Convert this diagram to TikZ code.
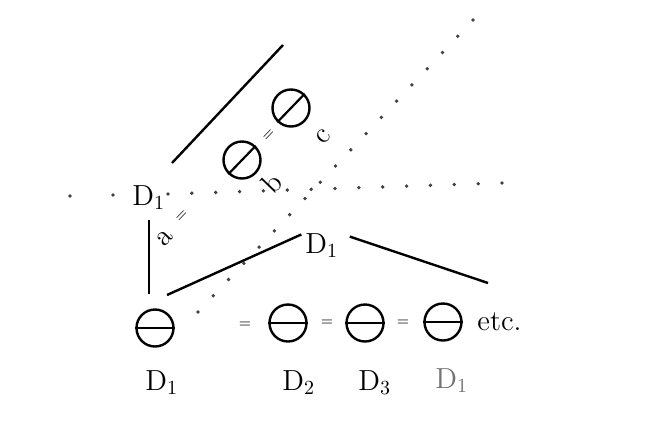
\documentclass[tikz,border=0pt]{standalone}
\usepackage{tikz}

\begin{document}
\begin{tikzpicture}[x=0.5pt,y=-0.5pt,
    every node/.style={font=\fontsize{14.5}{17}\selectfont, inner sep=0pt},
    lbl/.style={anchor=base west},
    barcirc/.style={circle, draw, line width=1.2pt, minimum size=18.5pt},
    bar/.style={line width=1.1pt},
    eq/.style={font=\fontsize{7.5}{9}\selectfont},
    solid line/.style={line width=1.2pt},
    dot/.style={fill=black!75}]
    \useasboundingbox (0,0) rectangle (655,425);

    % dotted rows
    \foreach \i in {0,...,18}
        \fill[dot] ({198+15.28*\i},{312-16.22*\i}) circle[radius=0.95pt];
    \foreach \x/\y in {70/196,113/195}
        \fill[dot] (\x,\y) circle[radius=0.95pt];
    \foreach \i in {0,...,14}
        \fill[dot] ({168+23.86*\i},{194-0.79*\i}) circle[radius=0.95pt];

    \node[lbl] (dtl) at (132,205) {D$_1$};
    \node[lbl] (dtr) at (305,253) {D$_1$};
    \node[lbl] (dbl) at (145,390) {D$_1$};
    \node[lbl] (d2) at (282,390) {D$_2$};
    \node[lbl] (d3) at (358,390) {D$_3$};
    \node[lbl, text=black!55] (d1g) at (435,388) {D$_1$};

    \node[barcirc] (cl) at (155,328) {};
    \node[barcirc] (ca) at (288,323) {};
    \node[barcirc] (cb) at (365,323) {};
    \node[barcirc] (cc) at (443,322) {};
    \node[barcirc, rotate=46] (cr1) at (242,160) {};
    \node[barcirc, rotate=46] (cr2) at (291,108) {};
    \foreach \c in {cl,ca,cb,cc,cr1,cr2}
        \draw[bar] (\c.west) -- (\c.east);

    \node[eq] (e1) at (245,325) {$=$};
    \node[eq] (e2) at (327,323) {$=$};
    \node[eq] (e3) at (403,323) {$=$};
    \node[lbl] (etc) at (477,330) {etc.};

    \node[eq, rotate=46] (e4) at (182,216) {$=$};
    \node[eq, rotate=46] (e5) at (269,135) {$=$};
    \node[rotate=46] (la) at (165,238) {a};
    \node[rotate=46] (lb) at (272,183) {b};
    \node[rotate=46] (lc) at (323,137) {c};

    \coordinate (t1) at (172,163);
    \coordinate (t2) at (283,45);
    \coordinate (p1) at (167,295);
    \coordinate (q2) at (488,283);

    \draw[solid line] (t1) -- (t2);
    \draw[solid line, shorten <=5pt, shorten >=7pt] (dtl.south) -- (dtl.south |- cl.north);
    \draw[solid line, shorten >=2pt] (p1) -- (dtr.north west);
    \draw[solid line, shorten <=6pt] (dtr.north east) -- (q2);
\end{tikzpicture}
\end{document}
